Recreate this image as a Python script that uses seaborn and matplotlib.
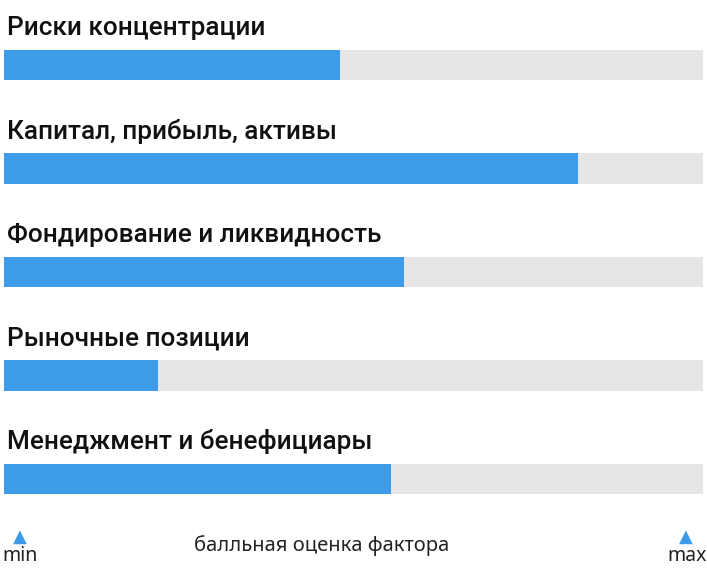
import matplotlib
matplotlib.use('Agg')
import matplotlib.pyplot as plt
import seaborn as sns
import pandas as pd

# factor scores, share of max scale
categories = ['Риски концентрации', 'Капитал, прибыль, активы', 'Фондирование и ликвидность',
              'Рыночные позиции', 'Менеджмент и бенефициары']
scores = [0.481, 0.821, 0.572, 0.220, 0.554]
scale_max = [1.0] * len(categories)

BLUE = '#3d9be9'
GRAY = '#e6e6e6'

sns.set_theme(style='white')
plt.rcParams['font.family'] = ['Noto Sans', 'DejaVu Sans']

W, H = 707, 576
fig = plt.figure(figsize=(W / 100, H / 100), dpi=100)
# axes spans the bar area: x 4..703 px, y 50..494 px
ax = fig.add_axes([4 / W, 1 - 494 / H, 699 / W, 444 / H])

df = pd.DataFrame({'factor': categories, 'score': scores, 'max': scale_max})
sns.barplot(data=df, x='max', y='factor', orient='h', color=GRAY, width=0.29,
            saturation=1, linewidth=0, ax=ax)
sns.barplot(data=df, x='score', y='factor', orient='h', color=BLUE, width=0.29,
            saturation=1, linewidth=0, ax=ax)

ax.set_xlim(0, 1)
ax.set_ylim(len(categories) - 1 + 0.145, -0.145)
ax.set_axis_off()

for i, name in enumerate(categories):
    ax.text(0.004, i - 0.36, name, ha='left', va='center', fontsize=18.8,
            fontweight='medium', color='#111111', clip_on=False,
            family=['Roboto', 'Open Sans', 'DejaVu Sans'])

# bottom scale legend
fig.text(20 / W, 1 - 537 / H, '▲', ha='center', va='center', fontsize=13,
         color=BLUE, family=['DejaVu Sans'])
fig.text(686 / W, 1 - 537 / H, '▲', ha='center', va='center', fontsize=13,
         color=BLUE, family=['DejaVu Sans'])
fig.text(20 / W, 1 - 556 / H, 'min', ha='center', va='center', fontsize=14, color='#222222')
fig.text(687 / W, 1 - 556 / H, 'max', ha='center', va='center', fontsize=14, color='#222222')
fig.text(322 / W, 1 - 546 / H, 'балльная оценка фактора', ha='center', va='center',
         fontsize=14.5, color='#222222')

fig.savefig('out.png', dpi=100)
